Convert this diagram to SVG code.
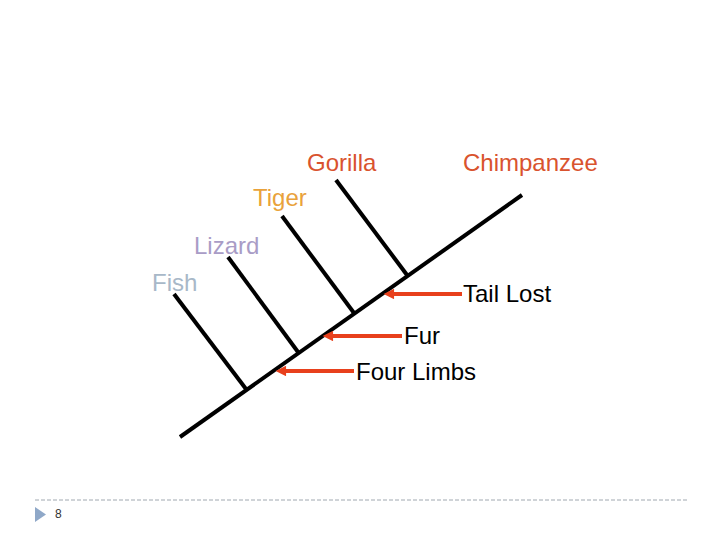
<svg xmlns="http://www.w3.org/2000/svg" width="720" height="540" viewBox="0 0 720 540">
<defs>
<style>
text{font-family:"Liberation Sans",Arial,sans-serif;font-size:24px}
.br{stroke:#000;stroke-width:4;stroke-linecap:butt;fill:none}
.ar{stroke:#E8401C;stroke-width:4;fill:none}
.blk{fill:#000}
</style>
<marker id="ah" viewBox="0 0 10 10" refX="1" refY="5" markerWidth="3" markerHeight="2.6" orient="auto-start-reverse" markerUnits="strokeWidth">
<path d="M0,0 L10,5 L0,10 Z" fill="#E8401C"/>
</marker>
</defs>
<rect width="720" height="540" fill="#fff"/>
<g id="connectors">
<line class="br" x1="180" y1="437" x2="522" y2="195"/>
<line class="br" x1="174" y1="294" x2="246" y2="389"/>
<line class="br" x1="228" y1="257" x2="298" y2="352"/>
<line class="br" x1="282" y1="216" x2="354" y2="313"/>
<line class="br" x1="336" y1="180" x2="407" y2="275"/>
<line class="ar" x1="462" y1="294" x2="393" y2="294" marker-end="url(#ah)"/>
<line class="ar" x1="402" y1="336" x2="332" y2="336" marker-end="url(#ah)"/>
<line class="ar" x1="354" y1="371" x2="285" y2="371" marker-end="url(#ah)"/>
</g>
<g id="gorilla"><text x="307" y="171" fill="#D9532E">Gorilla</text></g>
<g id="chimpanzee"><text x="463" y="171" fill="#D9532E">Chimpanzee</text></g>
<g id="tiger"><text x="253" y="206" fill="#E9A23B">Tiger</text></g>
<g id="lizard"><text x="194" y="254" fill="#A99CC6">Lizard</text></g>
<g id="fish"><text x="152" y="291" fill="#A8B8C8">Fish</text></g>
<g id="tail-lost"><text x="463" y="302" class="blk">Tail Lost</text></g>
<g id="fur"><text x="404" y="344" class="blk">Fur</text></g>
<g id="four-limbs"><text x="356" y="380" class="blk">Four Limbs</text></g>
<g id="footer">
<line x1="35" y1="500" x2="687" y2="500" stroke="#A0A8B0" stroke-width="1" stroke-dasharray="4,2"/>
<polygon points="35,507 46,514.5 35,522" fill="#8FA8C8"/>
<text x="55" y="518" style="font-size:12px" fill="#333">8</text>
</g>
</svg>
